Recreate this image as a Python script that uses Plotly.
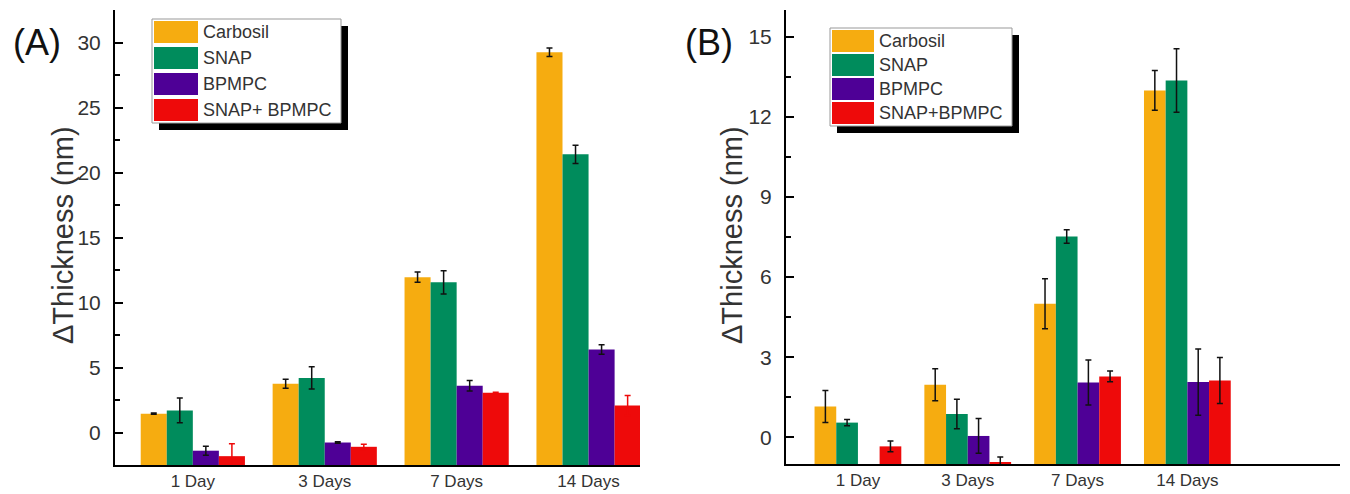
import plotly.graph_objects as go

W, H = 1350, 494

categories = ["1 Day", "3 Days", "7 Days", "14 Days"]
series_a = ["Carbosil", "SNAP", "BPMPC", "SNAP+ BPMPC"]
series_b = ["Carbosil", "SNAP", "BPMPC", "SNAP+BPMPC"]
colors = ["#F6AC10", "#008C5C", "#4E0096", "#EE0A0A"]

# Panel A values (nm) and error
carbosil_a = [1.45, 3.75, 11.95, 29.25]
snap_a = [1.7, 4.2, 11.55, 21.4]
bpmpc_a = [-1.4, -0.77, 3.6, 6.38]
snapbp_a = [-1.82, -1.1, 3.05, 2.08]
carbosil_a_err = [0.05, 0.35, 0.4, 0.33]
snap_a_err = [0.95, 0.85, 0.9, 0.7]
bpmpc_a_err = [0.35, 0.05, 0.4, 0.37]
snapbp_a_err = [0.95, 0.2, 0.05, 0.77]

# Panel B values (nm) and error
carbosil_b = [1.15, 1.97, 5.0, 12.99]
snap_b = [0.55, 0.87, 7.52, 13.36]
bpmpc_b = [None, 0.05, 2.05, 2.07]
snapbp_b = [-0.34, -0.94, 2.28, 2.13]
carbosil_b_err = [0.6, 0.6, 0.94, 0.74]
snap_b_err = [0.12, 0.55, 0.25, 1.19]
bpmpc_b_err = [0.0, 0.65, 0.84, 1.24]
snapbp_b_err = [0.2, 0.2, 0.2, 0.86]

ticks_a = [0, 5, 10, 15, 20, 25, 30]
ticks_b = [0, 3, 6, 9, 12, 15]
range_a = [-2.5, 32.5]
range_b = [-1.0, 16.0]

vals_a = [carbosil_a, snap_a, bpmpc_a, snapbp_a]
errs_a = [carbosil_a_err, snap_a_err, bpmpc_a_err, snapbp_a_err]
vals_b = [carbosil_b, snap_b, bpmpc_b, snapbp_b]
errs_b = [carbosil_b_err, snap_b_err, bpmpc_b_err, snapbp_b_err]

FONT = "Liberation Sans, Arial, sans-serif"
TXT = "#333333"

fig = go.Figure()

def add_panel(vals, errs, names, base, xa, ya, err_colors):
    for v, e, n, c, ec in zip(vals, errs, names, colors, err_colors):
        fig.add_trace(go.Bar(
            x=categories,
            y=[None if val is None else val - base for val in v],
            base=base,
            name=n,
            marker=dict(color=c, line=dict(width=0)),
            error_y=dict(type="data", array=e, color=ec, thickness=1.5, width=3),
            xaxis=xa, yaxis=ya, showlegend=False,
        ))

add_panel(vals_a, errs_a, series_a, range_a[0], "x", "y",
          ["#111111", "#111111", "#111111", "#EE0A0A"])
add_panel(vals_b, errs_b, series_b, range_b[0], "x2", "y2",
          ["#111111"] * 4)

def px(x):
    return x / W

def py(y):
    return 1 - y / H

axis_common = dict(
    showline=True, linecolor="black", linewidth=2, mirror=False,
    showgrid=False, zeroline=False,
)
xfont = dict(family=FONT, size=17, color=TXT)
yfont = dict(family=FONT, size=21, color=TXT)

fig.update_layout(
    width=W, height=H,
    margin=dict(l=0, r=0, t=0, b=0),
    paper_bgcolor="white", plot_bgcolor="white",
    barmode="group", bargap=0.21, bargroupgap=0.0,
    xaxis=dict(domain=[px(115), px(640)], anchor="y",
               range=[-0.59, 3.39], ticks="", tickfont=xfont, **axis_common),
    yaxis=dict(domain=[py(465), py(10)], anchor="x", range=range_a,
               tickvals=ticks_a, ticks="inside", ticklen=8, tickwidth=1.5,
               tickcolor="black",
               minor=dict(dtick=2.5, tick0=0, ticks="inside", ticklen=5,
                          tickwidth=1.5, tickcolor="black"),
               ticklabelstandoff=8, tickfont=yfont, **axis_common),
    xaxis2=dict(domain=[px(786), px(1340)], anchor="y2",
                range=[-0.655, 4.39], ticks="", tickfont=xfont, **axis_common),
    yaxis2=dict(domain=[py(464), py(10)], anchor="x2", range=range_b,
                tickvals=ticks_b, ticks="inside", ticklen=8, tickwidth=1.5,
                tickcolor="black",
                minor=dict(dtick=1.5, tick0=0, ticks="inside", ticklen=5,
                           tickwidth=1.5, tickcolor="black"),
                ticklabelstandoff=8, tickfont=yfont, **axis_common),
)

shapes = []
annotations = []

def legend(x0, y0, x1, y1, sw_x1, row_h, sw_h, first_y, names, text_x, fsize):
    # shadow
    shapes.append(dict(type="rect", xref="paper", yref="paper",
                       x0=px(x0 + 7), x1=px(x1 + 7), y0=py(y1 + 7), y1=py(y0 + 7),
                       fillcolor="black", line=dict(width=0), layer="above"))
    shapes.append(dict(type="rect", xref="paper", yref="paper",
                       x0=px(x0), x1=px(x1), y0=py(y1), y1=py(y0),
                       fillcolor="white", line=dict(color="#999999", width=1),
                       layer="above"))
    for i, (n, c) in enumerate(zip(names, colors)):
        top = first_y + i * row_h
        shapes.append(dict(type="rect", xref="paper", yref="paper",
                           x0=px(x0 + 2), x1=px(sw_x1), y0=py(top + sw_h), y1=py(top),
                           fillcolor=c, line=dict(width=0), layer="above"))
        annotations.append(dict(xref="paper", yref="paper", x=px(text_x),
                                y=py(top + sw_h / 2), text=n, showarrow=False,
                                xanchor="left", yanchor="middle",
                                font=dict(family=FONT, size=fsize, color=TXT)))

legend(152, 19, 341, 123, 198, 26, 22, 21, series_a, 201, 18)
legend(830, 28, 1012, 126, 874, 24, 22, 30, series_b, 877, 18)

# panel labels
annotations.append(dict(xref="paper", yref="paper", x=px(37), y=py(43), text="(A)",
                        showarrow=False, xanchor="center", yanchor="middle",
                        font=dict(family=FONT, size=36, color="#111111")))
annotations.append(dict(xref="paper", yref="paper", x=px(709), y=py(43), text="(B)",
                        showarrow=False, xanchor="center", yanchor="middle",
                        font=dict(family=FONT, size=36, color="#111111")))
# y axis titles
for xc in (63, 732):
    annotations.append(dict(xref="paper", yref="paper", x=px(xc), y=py(235),
                            text="ΔThickness (nm)", showarrow=False, textangle=-90,
                            xanchor="center", yanchor="middle",
                            font=dict(family=FONT, size=29, color=TXT)))

fig.update_layout(shapes=shapes, annotations=annotations)

fig.write_html("out.html",
               config={"displayModeBar": False},
               post_script="document.body.style.margin='0';"
                           "document.body.style.overflow='hidden';")
